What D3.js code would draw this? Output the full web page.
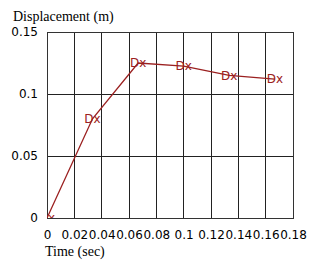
<!DOCTYPE html>
<html><head><meta charset="utf-8">
<script src="https://cdn.jsdelivr.net/npm/d3@7"></script>
<style>html,body{margin:0;padding:0;background:#fff;}</style>
</head><body>
<svg id="c" width="311" height="261"></svg>
<script>
const times = [0, 0.0333, 0.0667, 0.1, 0.1333, 0.1667];
const displacement = [0, 0.08, 0.125, 0.1225, 0.115, 0.112];
const pointLabel = "Dx";
const xTicks = [0, 0.02, 0.04, 0.06, 0.08, 0.1, 0.12, 0.14, 0.16, 0.18];
const yTicks = [0, 0.05, 0.1, 0.15];
const xTitle = "Time (sec)";
const yTitle = "Displacement (m)";

const svg = d3.select("#c");
const L = 47, R = 293, T = 32, B = 218;
const x = d3.scaleLinear().domain([0, 0.18]).range([L, R]);
const y = d3.scaleLinear().domain([0, 0.15]).range([B, T]);
const fmt = d => String(+d.toFixed(2));
const red = "#9b2020";

// grid
const g = svg.append("g");
g.selectAll("line.v").data(xTicks).join("line")
  .attr("x1", d => x(d)).attr("x2", d => x(d)).attr("y1", T).attr("y2", B)
  .attr("stroke", "#222").attr("stroke-width", 1).attr("shape-rendering", "crispEdges");
g.selectAll("line.h").data(yTicks).join("line")
  .attr("x1", L).attr("x2", R).attr("y1", d => y(d)).attr("y2", d => y(d))
  .attr("stroke", "#222").attr("stroke-width", 1).attr("shape-rendering", "crispEdges");
g.append("rect").attr("x", L).attr("y", T).attr("width", R - L).attr("height", B - T)
  .attr("fill", "none").attr("stroke", "#333").attr("shape-rendering", "crispEdges");

// axes labels via d3 axes
const xa = svg.append("g").attr("transform", `translate(0,${B})`)
  .call(d3.axisBottom(x).tickValues(xTicks).tickFormat(fmt).tickSize(0).tickPadding(12));
xa.select(".domain").remove();
xa.selectAll("text").attr("font-family", "DejaVu Sans").attr("font-size", 12).attr("fill", "#000");
const ya = svg.append("g").attr("transform", `translate(${L},0)`)
  .call(d3.axisLeft(y).tickValues(yTicks).tickFormat(fmt).tickSize(0).tickPadding(9));
ya.select(".domain").remove();
ya.selectAll("text").attr("font-family", "DejaVu Sans").attr("font-size", 12).attr("fill", "#000");

// titles
svg.append("text").attr("x", 13).attr("y", 21).text(yTitle)
  .attr("font-family", "Liberation Serif").attr("font-size", 14);
svg.append("text").attr("x", 45).attr("y", 256).text(xTitle)
  .attr("font-family", "Liberation Serif").attr("font-size", 14);

// clip
svg.append("clipPath").attr("id", "pc").append("rect")
  .attr("x", L).attr("y", T).attr("width", R - L).attr("height", B - T);

const data = times.map((t, i) => ({t, v: displacement[i]}));
const pg = svg.append("g").attr("clip-path", "url(#pc)");
pg.append("path").datum(data)
  .attr("d", d3.line().x(d => x(d.t)).y(d => y(d.v)))
  .attr("fill", "none").attr("stroke", red).attr("stroke-width", 1.3);
pg.selectAll("text").data(data).join("text")
  .attr("x", d => x(d.t)).attr("y", d => y(d.v)).attr("dy", "0.35em")
  .attr("text-anchor", "middle").text(pointLabel)
  .attr("font-family", "DejaVu Sans").attr("font-size", 12).attr("fill", red);
</script>
</body></html>
